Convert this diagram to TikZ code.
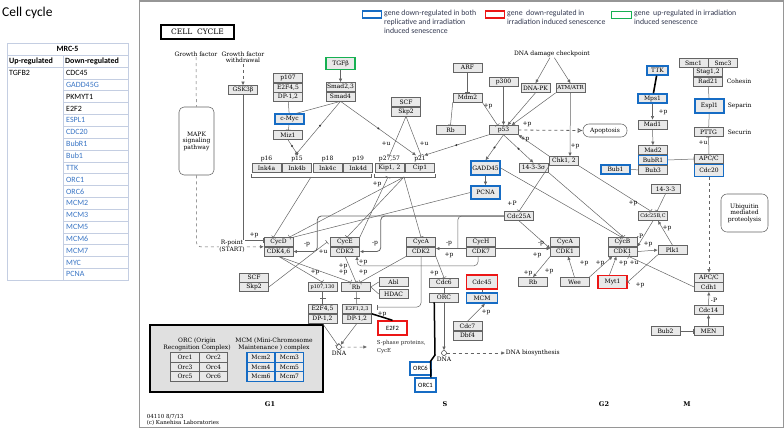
\documentclass[tikz,border=0pt]{standalone}
\usepackage{fontspec}
\setmainfont{DejaVu Serif}
\newfontfamily\cali{Carlito}
\usetikzlibrary{arrows.meta,positioning}
\definecolor{kgray}{RGB}{100,100,100}
\definecolor{kfill}{RGB}{233,233,233}
\definecolor{kblue}{RGB}{22,108,196}
\definecolor{kred}{RGB}{236,22,22}
\definecolor{kgreen}{RGB}{22,176,82}
\definecolor{tblue}{RGB}{56,116,196}
\definecolor{tline}{RGB}{196,206,226}
\definecolor{legtxt}{RGB}{50,56,80}
\definecolor{panel}{RGB}{150,150,150}

\begin{document}
\begin{tikzpicture}[x=1pt, y=-1pt,
  every node/.style={font=\fontsize{6}{6.5}\selectfont, inner sep=0.6pt},
  gene/.style={draw=kgray, fill=kfill, minimum width=29pt, minimum height=9pt, inner sep=0pt, line width=0.55pt},
  bluebox/.style={gene, draw=kblue, line width=1.4pt},
  redbox/.style={gene, draw=kred, line width=1.4pt},
  greenbox/.style={gene, draw=kgreen, line width=1.4pt},
  smallfont/.style={font=\fontsize{5}{5.5}\selectfont},
  rel/.style={draw=kgray, line width=0.5pt},
  act/.style={rel, -{Latex[length=3.6pt,width=3.4pt]}},
  inh/.style={rel, -{Bar[width=5pt]}},
  kdot/.style={circle, fill=black!80, inner sep=0pt, minimum size=2.2pt},
  xbar/.style={fill=kgray, inner sep=0pt, minimum width=6pt, minimum height=0.6pt},
  tcell/.style={font=\cali\fontsize{8}{8.5}\selectfont, anchor=west, inner sep=0pt},
  thead/.style={font=\cali\bfseries\fontsize{8}{8.5}\selectfont, inner sep=0pt},
  legtext/.style={font=\cali\fontsize{7.8}{9.4}\selectfont, text=legtxt, anchor=north west, align=left, inner sep=0pt},
  phase/.style={font=\bfseries\fontsize{6.5}{7}\selectfont},
]
\useasboundingbox (0,0) rectangle (784,429);

% expression table
\node[anchor=west, font=\cali\fontsize{13.5}{15}\selectfont, inner sep=0pt] (title) at (2,13) {Cell cycle};
\draw[tline, line width=0.6pt] (7,43) rectangle (128,280);
\draw[tline, line width=0.6pt] (7,55) -- (128,55) (7,67) -- (128,67) (63,55) -- (63,280);
\foreach \r in {1,...,17} \draw[tline, line width=0.6pt] (63,{67+11.85*\r}) -- (128,{67+11.85*\r});
\node[thead] (mrc) at (67.5,49) {MRC-5};
\node[thead, anchor=west] (uphead) at (9,61) {Up-regulated};
\node[thead, anchor=west] (dnhead) at (65,61) {Down-regulated};
\node[tcell] (up1) at (9,73) {TGFB2};
\foreach \g/\c [count=\i] in {CDC45/black,GADD45G/tblue,PKMYT1/black,E2F2/black,ESPL1/tblue,CDC20/tblue,BubR1/tblue,Bub1/tblue,TTK/tblue,ORC1/tblue,ORC6/tblue,MCM2/tblue,MCM3/tblue,MCM5/tblue,MCM6/tblue,MCM7/tblue,MYC/tblue,PCNA/tblue}
  \node[tcell, text=\c] (dn\i) at (66,{61.1+11.85*\i}) {\g};

% kegg map frame and legend
\draw[panel, line width=1.2pt] (139.5,1) rectangle (783.5,427.5);
\node[draw=black, line width=1.3pt, minimum width=73pt, minimum height=14pt, font=\fontsize{7.5}{8}\selectfont] (cctitle) at (197.5,32) {CELL\ \ CYCLE};
\node[draw=kblue, line width=1.4pt, minimum width=19pt, minimum height=7pt, inner sep=0pt] (legblue) at (372,14.5) {};
\node[legtext] (legbluet) at (384,9.5) {gene down-regulated in both\\replicative and irradiation\\induced senescence};
\node[draw=kred, line width=1.4pt, minimum width=19pt, minimum height=7pt, inner sep=0pt] (legred) at (495,14.5) {};
\node[legtext] (legredt) at (507,9.5) {gene\ \ down-regulated in\\irradiation induced senescence};
\node[draw=kgreen, line width=1.4pt, minimum width=20pt, minimum height=7pt, inner sep=0pt] (leggreen) at (621.5,15) {};
\node[legtext] (leggreent) at (634,9.5) {gene\ \ up-regulated in irradiation\\induced senescence};

% G1
\node (gf) at (196,54) {Growth factor};
\node[align=center] (gfw) at (243,57.5) {Growth factor\\withdrawal};
\node[draw=kgray, rounded corners=5pt, minimum width=35pt, minimum height=68pt, align=center, line width=0.55pt] (mapk) at (196.5,141) {MAPK\\signaling\\pathway};
\node[gene] (gsk) at (243,90) {GSK3β};
\node[gene] (p107) at (288,78) {p107};
\node[gene, below=0pt of p107] (e2f45a) {E2F4,5};
\node[gene, below=0pt of e2f45a] (dp12a) {DP-1,2};
\node[greenbox, minimum height=12pt] (tgfb) at (340.5,63.5) {TGFβ};
\node[gene] (smad23) at (340.5,87) {Smad2,3};
\node[gene, below=0pt of smad23] (smad4) {Smad4};
\node[bluebox, minimum height=10pt] (cmyc) at (289.5,119) {c-Myc};
\node[gene] (miz1) at (288,135) {Miz1};
\node[gene] (ink4a) at (266.5,168) {Ink4a};
\node[gene, right=1pt of ink4a] (ink4b) {Ink4b};
\node[gene, right=1pt of ink4b] (ink4c) {Ink4c};
\node[gene, right=1pt of ink4c] (ink4d) {Ink4d};
\node[above=0.5pt of ink4a] (lp16) {p16};
\node[above=0.5pt of ink4b] (lp15) {p15};
\node[above=0.5pt of ink4c] (lp18) {p18};
\node[above=0.5pt of ink4d] (lp19) {p19};
\node[gene] (kip12) at (389.5,168) {Kip1, 2};
\node[gene, right=1pt of kip12] (cip1) {Cip1};
\node[above=0.5pt of kip12] (lp27) {p27,57};
\node[above=0.5pt of cip1] (lp21) {p21};
\node[gene] (scf1) at (406,102) {SCF};
\node[gene, below=0pt of scf1] (skp2a) {Skp2};
\coordinate (inkl) at (251,177); \coordinate (inkr) at (371,177); \coordinate (inkm) at (311,177);
\coordinate (kipl) at (374,177); \coordinate (kipr) at (435,177); \coordinate (kipm) at (404,177); \coordinate (kipp) at (388,177);
\node[gene] (cycd) at (278.5,242) {CycD};
\node[gene, below=0pt of cycd] (cdk46) {CDK4,6};
\node[gene] (cyce) at (345,242) {CycE};
\node[gene, below=0pt of cyce] (cdk2e) {CDK2};
\node[gene] (scf2) at (254,277.5) {SCF};
\node[gene, below=0pt of scf2] (skp2b) {Skp2};
\node[gene, smallfont] (p10730) at (322.5,287) {p107,130};
\node[gene] (rbg1) at (356,287) {Rb};
\node[gene] (abl) at (393.5,282) {Abl};
\node[gene] (hdac) at (393.5,294) {HDAC};
\node[gene] (e2f45b) at (322.5,309) {E2F4,5};
\node[gene, below=0pt of e2f45b] (dp12b) {DP-1,2};
\node[gene, smallfont] (e2f123) at (357,309) {E2F1,2,3};
\node[gene, below=0pt of e2f123] (dp12c) {DP-1,2};
\node[circle, draw=black, inner sep=0pt, minimum size=5pt] (dnag) at (339,347) {};
\node[below=0.5pt of dnag] (dnaglbl) {DNA};
\node[redbox, fill=white, minimum height=14pt, font=\cali\fontsize{6.5}{7}\selectfont] (e2f2) at (392.5,328) {E2F2};
\node[anchor=north west, align=left, font=\fontsize{5.5}{8}\selectfont, text=black!85] (sphase) at (376,339.5) {S-phase proteins,\\CycE};

% ORC / MCM complexes
\node[draw=black, line width=1.3pt, fill=black!12, minimum width=173pt, minimum height=67pt] (cplx) at (236.5,358.5) {};
\node[align=center] (orchead) at (197,344.5) {ORC (Origin\\Recognition Complex)};
\node[align=center] (mcmhead) at (274,344.5) {MCM (Mini-Chromosome\\Maintenance ) complex};
\foreach \a/\b [count=\i] in {1/2,3/4,5/6} {
  \node[gene, minimum width=28.5pt, minimum height=9.5pt] (orcc\a) at (185,{348+9.5*\i}) {Orc\a};
  \node[gene, minimum width=28.5pt, minimum height=9.5pt] (orcc\b) at (213.5,{348+9.5*\i}) {Orc\b};
}
\foreach \a/\b [count=\i] in {2/3,4/5,6/7} {
  \node[bluebox, line width=1.1pt, minimum width=28pt, minimum height=9.5pt] (mcmc\a) at (261,{348+9.5*\i}) {Mcm\a};
  \node[bluebox, line width=1.1pt, minimum width=28pt, minimum height=9.5pt] (mcmc\b) at (289.5,{348+9.5*\i}) {Mcm\b};
}

% S
\node[gene] (arf) at (467.5,67.5) {ARF};
\node[gene] (mdm2) at (467.5,97.5) {Mdm2};
\node[gene] (rbtop) at (450.5,130) {Rb};
\node[gene] (p300) at (503.5,81.5) {p300};
\node[gene] (p53) at (503.5,130) {p53};
\node[gene] (dnapk) at (535.5,88) {DNA-PK};
\node[gene, font=\fontsize{5.5}{6}\selectfont] (atm) at (570.5,88) {ATM/ATR};
\node (dnadc) at (552,54) {DNA damage checkpoint};
\node[gene] (chk) at (564,161) {Chk1, 2};
\node[bluebox, minimum height=14pt] (gadd45) at (485.5,168) {GADD45};
\node[bluebox, minimum height=13pt] (pcna) at (485.5,192.5) {PCNA};
\node[gene] (f33s) at (533.5,167.5) {14-3-3σ};
\node[draw=kgray, rounded corners=6pt, minimum width=44pt, minimum height=13pt, line width=0.55pt] (apop) at (605,130.5) {Apoptosis};
\node[gene] (cdc25a) at (519,216) {Cdc25A};
\node[gene] (cyca) at (421,242) {CycA};
\node[gene, below=0pt of cyca] (cdk2a) {CDK2};
\node[gene] (cych) at (481,242) {CycH};
\node[gene, below=0pt of cych] (cdk7) {CDK7};
\node[gene] (cdc6) at (444,282.5) {Cdc6};
\node[redbox, minimum width=31pt, minimum height=14pt] (cdc45) at (482,282) {Cdc45};
\node[gene] (orc) at (444,297.5) {ORC};
\node[bluebox, minimum width=31pt, minimum height=10pt] (mcm) at (482,298) {MCM};
\node[gene] (cdc7) at (467.5,326) {Cdc7};
\node[gene, below=0pt of cdc7] (dbf4) {Dbf4};
\node[circle, draw=black, inner sep=0pt, minimum size=5pt] (dnas) at (444,353) {};
\node[below=0.5pt of dnas] (dnaslbl) {DNA};
\node[anchor=west] (dnabio) at (505,353) {DNA biosynthesis};
\node[bluebox, fill=white, minimum width=21pt, minimum height=13pt, font=\cali\fontsize{6.5}{7}\selectfont] (orc6) at (420.5,368.5) {ORC6};
\node[bluebox, fill=white, minimum width=21pt, minimum height=14pt, font=\cali\fontsize{6.5}{7}\selectfont] (orc1) at (425.5,385) {ORC1};
\coordinate (orcj) at (435,355);

% G2 and M
\node[gene] (cyca1) at (565,242) {CycA};
\node[gene, below=0pt of cyca1] (cdk1a) {CDK1};
\node[gene] (cycb) at (622.5,242) {CycB};
\node[gene, below=0pt of cycb] (cdk1b) {CDK1};
\node[gene, smallfont] (cdc25bc) at (653,216) {Cdc25B,C};
\node[gene] (f33g2) at (665.5,189) {14-3-3};
\node[gene] (plk1) at (672.5,250) {Plk1};
\node[redbox, minimum height=13pt] (myt1) at (612.5,282) {Myt1};
\node[gene] (wee) at (574.5,282) {Wee};
\node[gene] (rbg2) at (533,282) {Rb};
\node[bluebox, minimum width=21pt] (ttk) at (657.5,70.5) {TTK};
\node[bluebox] (mps1) at (652.5,98.5) {Mps1};
\node[gene] (mad1) at (652.5,124.5) {Mad1};
\node[gene] (mad2) at (653,150) {Mad2};
\node[bluebox, below=0pt of mad2] (bubr1) {BubR1};
\node[gene, below=0pt of bubr1] (bub3) {Bub3};
\node[bluebox] (bub1) at (615.5,169.5) {Bub1};
\node[gene] (smc1) at (693.5,63) {Smc1};
\node[gene, right=0pt of smc1] (smc3) {Smc3};
\node[gene] (stag) at (708,72) {Stag1,2};
\node[gene, below=0pt of stag] (rad21) {Rad21};
\node[anchor=west] (cohesin) at (726,81) {Cohesin};
\node[bluebox, minimum height=14pt] (espl1) at (709.5,106) {Espl1};
\node[anchor=west] (separin) at (727,106) {Separin};
\node[gene] (pttg) at (708.5,132) {PTTG};
\node[anchor=west] (securin) at (727,132) {Securin};
\node[gene] (apcc1) at (709,159) {APC/C};
\node[bluebox, minimum height=12pt, below=0pt of apcc1] (cdc20) {Cdc20};
\node[draw=kgray, rounded corners=6pt, minimum width=47pt, minimum height=38pt, align=center, line width=0.55pt] (ubiq) at (744.5,213) {Ubiquitin\\mediated\\proteolysis};
\node[gene] (apcc2) at (709,277.5) {APC/C};
\node[gene, below=0pt of apcc2] (cdh1) {Cdh1};
\node[gene] (cdc14) at (708.5,310) {Cdc14};
\node[gene] (men) at (708.5,331) {MEN};
\node[gene] (bub2) at (665.5,331) {Bub2};

% phases and footer
\node[phase] (phg1) at (270,404) {G1};
\node[phase] (phs) at (445,404) {S};
\node[phase] (phg2) at (604,404) {G2};
\node[phase] (phm) at (687,404) {M};
\node[anchor=west, align=left, font=\fontsize{5.5}{6}\selectfont] (foot) at (146,419.5) {04110 8/7/13\\(c) Kanehisa Laboratories};

% relations G1
\draw[rel, dashed] (gf) -- (mapk);
\draw[act, dashed] (gfw) -- (gsk);
\draw[inh] (gsk) |- ([yshift=2pt]cycd.west);
\node (lp1) at (254,235.5) {+p};
\draw[act, dashed, rounded corners=4pt] (mapk) |- (cycd.south west);
\node[fill=white, align=center, inner sep=0.3pt] (rpt) at (232,246.5) {R-point\\(START)};
\draw[rel] (dp12a) -- (cmyc);
\draw[act] (tgfb) -- (smad23);
\draw[rel] (smad4.south) -- ([xshift=7pt]cmyc.north);
\draw[inh] (cmyc) -- (miz1);
\draw[act] (smad4.south) -- node[kdot, pos=0.45] (d1) {} ([xshift=-2pt]lp15.north);
\draw[act] (miz1.south) -- node[kdot, pos=0.4] (d2) {} ([xshift=1pt]lp15.north);
\draw[act] (smad4.south) -- node[kdot, pos=0.5] (d3) {} ([xshift=-4pt]lp21.north);
\draw[act] (p53.south west) -- node[kdot, pos=0.5] (d4) {} ([xshift=4pt]lp21.north);
\draw[inh] (skp2a.south) -- (lp27.north);
\draw[inh] (skp2a.south) -- ([xshift=1pt]lp21.north);
\node (lp2) at (386,144) {+u};
\node (lp3) at (424,144) {+u};
\draw[rel] ([yshift=3pt]inkl) -- (inkl) -- (inkr) -- ([yshift=3pt]inkr);
\draw[rel] ([yshift=3pt]kipl) -- (kipl) -- (kipr) -- ([yshift=3pt]kipr);
\draw[inh] (inkm) -- ([xshift=-5pt]cycd.north);
\draw[inh] (kipm) -- ([xshift=-4pt]cycd.north east);
\draw[inh] (kipm) -- ([xshift=2pt]cyce.north);
\draw[inh] (kipm) -- (cyca.north);
\draw[rel] (pcna.west) -- (cycd.north east);
\draw[inh] (cyce.north east) -- (kipp);
\node (lp4) at (377,184) {+p};
\draw[inh] (skp2b.east) -- ([xshift=-3pt]cyce.west);
\node (lp5) at (323,252) {+u};
\draw[inh] (cdk46.south) -- (p10730.north);
\node (lp6) at (315,272) {+p};
\draw[inh] (cdk46.south) -- ([xshift=-5pt]rbg1.north);
\draw[inh] (cdk2e.south) -- (rbg1.north);
\node (lp7) at (343,266) {+p};
\node (lp8) at (343,272) {+p};
\draw[inh] (cdk2a.south west) -- ([xshift=4pt]rbg1.north);
\node (lp9) at (363,272) {+p};
\draw[rel] (p10730) -- node[xbar] (x1) {} (e2f45b);
\draw[rel] (rbg1) -- node[xbar] (x2) {} (e2f123);
\draw[rel] (rbg1.east) -- (abl.west);
\draw[rel] (rbg1.east) -- (hdac.west);
\draw[inh] (dp12b.south) -- (dnag);
\draw[act] (dp12c.south) -- (dnag);
\draw[act, dashed] (dnag) -- ([xshift=-9pt]sphase.west);
\draw[line width=1.5pt] (e2f123.south east) -- (e2f2.north);

% relations S
\draw[act, line width=0.8pt, rounded corners=4pt] (cdc25a.west) -| ([xshift=24pt]cdk46.east) -- (cdk46.east);
\draw[act, line width=0.8pt, rounded corners=4pt] (cdc25a.west) -| ([xshift=21pt]cdk2e.east) -- (cdk2e.east);
\draw[rel, rounded corners=4pt] (cdc25a.west) -| ([xshift=22pt,yshift=3pt]cdk2a.east);
\node (lp10) at (307,245) {-p};
\node (lp11) at (375,244) {-p};
\node (lp12) at (449,244) {-p};
\draw[act] ([yshift=3pt]cdk7.west) -- ([yshift=3pt]cdk2a.east);
\node (lp13) at (449,255) {+p};
\draw[act, rounded corners=4pt] ([xshift=-3pt]cdk7.south) -- ++(0,9.5) -| ([xshift=12pt]cdk2e.south);
\node (lp14) at (363,262) {+p};
\draw[act] ([yshift=3pt]cdk7.east) -- ([yshift=3pt]cdk1a.west);
\node (lp15b) at (537,255) {+p};
\draw[act] (cdc25a.south) -- ([yshift=3pt]cdk1a.west);
\node (lp16b) at (541,244) {-p};
\draw[inh, rounded corners=4pt] (cdk2a.south) |- ([xshift=5pt,yshift=2pt]e2f123.east);
\node (lp17) at (382,314) {+p};
\draw[inh] (cdk2a.south east) -- (cdc6.north);
\node (lp18b) at (434,273) {+p};
\draw[rel] (cdc6) -- (orc);
\draw[rel] (cdc45) -- (mcm);
\draw[act] (orc) -- (dnas);
\draw[act] (cdc7.north) -- ([xshift=3pt]mcm.south);
\node (lp19b) at (486,312) {+p};
\draw[act, dashed] (dnas) -- (dnabio.west);
\draw[line width=1.5pt] ([xshift=5pt]orc.south west) -- (orcj) -- ([xshift=10pt]orc6.north) -- ([xshift=5.5pt]orc1.north);
\draw[act] (p300) -- (p53);
\draw[inh] (arf) -- (mdm2);
\draw[inh] (mdm2.south west) -- (rbtop.north);
\draw[inh] (mdm2.south east) -- ([xshift=-6pt]p53.north);
\node (lp20) at (488,106) {+p};
\draw[act] (dnadc) -- (dnapk.north);
\draw[act] (dnadc) -- (atm.north);
\draw[act] (dnapk.south) -- ([xshift=4pt]p53.north);
\draw[act] (atm.south west) -- ([xshift=8pt]p53.north);
\node (lp21b) at (527,124) {+p};
\draw[act] (atm.south) -- ([xshift=6pt]chk.north);
\node (lp22) at (575,146) {+p};
\draw[act] (chk.north west) -- (p53.south east);
\node (lp23) at (525,139) {+p};
\draw[dashed, draw=kgray, line width=0.8pt, -{Latex[open, length=5pt, width=5pt]}] (p53.east) -- (apop.west);
\draw[act] (p53.south) -- node[kdot, pos=0.5] (d5) {} (gadd45.north);
\draw[act] (p53.south) -- node[kdot, pos=0.5] (d6) {} (f33s.north);
\draw[act] (gadd45) -- (pcna);

% relations G2 and M
\draw[inh] (chk.south west) -- (cdc25a.north);
\node (lp24) at (512,203) {+P};
\draw[inh] (chk.south east) -- ([xshift=-2pt]cdc25bc.north);
\node (lp25) at (633,203) {+p};
\draw[inh] (f33g2.south) -- ([xshift=4pt]cdc25bc.north);
\draw[act] (cdc25bc.south) -- (cycb.south east);
\node (lp26) at (640,236) {-P};
\draw[act] (plk1.north) -- ([xshift=5pt]cdc25bc.south);
\node (lp27b) at (667,228) {+p};
\draw[act] (cdk1b.east) -- (plk1.west);
\node (lp28) at (648,244) {+p};
\draw[inh] (plk1.south west) -- (myt1.east);
\node (lp29) at (640,285) {+p};
\draw[act] ([xshift=-3pt]myt1.north) -- ([xshift=-6pt]cdk1b.south);
\node (lp30) at (623,263) {+p};
\draw[act] (wee.north east) -- ([xshift=-10pt]cdk1b.south);
\draw[act] (wee.north) -- ([xshift=3pt]cdk1a.south);
\node (lp31) at (584,263) {+p};
\node (lp32) at (600,263) {+p};
\draw[act] (cdk1a.south west) -- (rbg2.north);
\node (lp33) at (528,273) {+p};
\node (lp34) at (549,271) {+p};
\draw[inh] (cdh1.west) -- ([xshift=6pt]cdk1b.south);
\node (lp35) at (634,263) {+u};
\draw[inh] (gadd45.east) -- ([xshift=-1pt]cycb.north);
\draw[inh] (f33s.south east) -- ([xshift=1pt]cycb.north);
\draw[line width=1.6pt] (ttk) -- (mps1);
\draw[act] (mps1) -- (mad1);
\node (lp36) at (663,112) {+p};
\draw[act] (mad1) -- (mad2);
\draw[rel] (bub1) -- (bub3);
\draw[inh] (bubr1.east) -- (apcc1.west);
\draw[rel] (rad21) -- (espl1);
\draw[rel] (espl1) -- (pttg);
\draw[inh] (apcc1) -- (pttg);
\node (lp37) at (703,143) {+u};
\draw[act, dashed] (cdc20) -- (apcc2);
\draw[act] (cdc14) -- (cdh1);
\node (lp38) at (714,300) {-P};
\draw[act] (men) -- (cdc14);
\draw[inh] (bub2) -- (men);
\end{tikzpicture}
\end{document}
